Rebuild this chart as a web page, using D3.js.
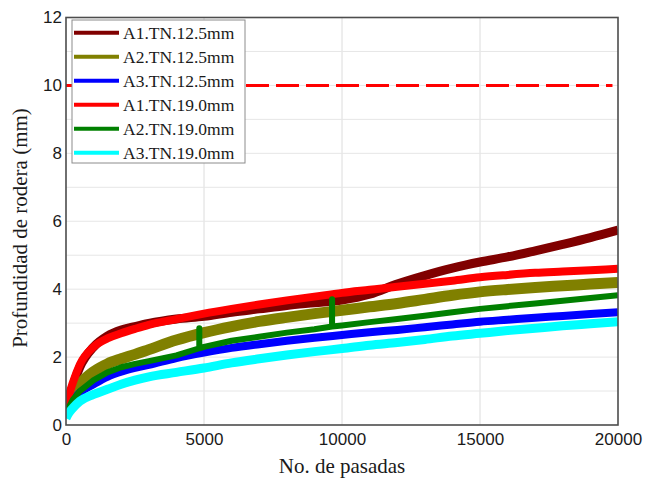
<!DOCTYPE html>
<html>
<head>
<meta charset="utf-8">
<script src="https://cdn.jsdelivr.net/npm/d3@7"></script>
<style>
  html, body { margin: 0; padding: 0; background: #fff; }
  svg { display: block; }
</style>
</head>
<body>
<svg id="chart" width="646" height="479"></svg>
<script>
// Rut depth (mm) versus number of wheel passes
const passes = [0, 100, 250, 500, 1000, 1500, 2000, 2500, 3000, 4000, 5000, 6000, 7000, 8000, 9000,
                10000, 11000, 12000, 13000, 14000, 15000, 16000, 17000, 18000, 19000, 20000];

const seriesNames = ["A1.TN.12.5mm", "A2.TN.12.5mm", "A3.TN.12.5mm",
                     "A1.TN.19.0mm", "A2.TN.19.0mm", "A3.TN.19.0mm"];
const seriesColors = ["#800000", "#808000", "#0000ff", "#ff0000", "#008000", "#00ffff"];

const a1_125 = [0.40, 0.75, 1.15, 1.70, 2.30, 2.62, 2.80, 2.90, 2.99, 3.12, 3.20, 3.32, 3.42, 3.52, 3.60,
                3.68, 3.85, 4.15, 4.40, 4.62, 4.80, 4.95, 5.13, 5.32, 5.52, 5.74];
const a2_125 = [0.35, 0.60, 0.90, 1.20, 1.57, 1.80, 1.95, 2.08, 2.22, 2.50, 2.72, 2.90, 3.05, 3.17, 3.28,
                3.38, 3.48, 3.58, 3.70, 3.82, 3.92, 3.99, 4.05, 4.10, 4.15, 4.20];
const a3_125 = [0.30, 0.50, 0.72, 0.95, 1.20, 1.42, 1.57, 1.68, 1.77, 1.97, 2.13, 2.27, 2.38, 2.48, 2.57,
                2.65, 2.73, 2.80, 2.88, 2.96, 3.04, 3.10, 3.16, 3.21, 3.27, 3.32];
const a1_190 = [0.45, 0.85, 1.25, 1.78, 2.30, 2.55, 2.70, 2.83, 2.95, 3.12, 3.28, 3.42, 3.55, 3.67, 3.78,
                3.89, 3.98, 4.07, 4.16, 4.25, 4.35, 4.42, 4.48, 4.52, 4.56, 4.60];
const a2_190 = [0.30, 0.52, 0.75, 1.00, 1.32, 1.55, 1.70, 1.80, 1.88, 2.05, 2.30, 2.48, 2.60, 2.72, 2.82,
                2.93, 3.03, 3.12, 3.22, 3.32, 3.42, 3.50, 3.58, 3.66, 3.74, 3.82];
const a3_190 = [0.20, 0.35, 0.50, 0.70, 0.90, 1.05, 1.20, 1.32, 1.42, 1.55, 1.68, 1.83, 1.95, 2.06, 2.16,
                2.25, 2.35, 2.43, 2.52, 2.62, 2.70, 2.78, 2.85, 2.92, 2.98, 3.04];

// Short spikes recorded in the A2.TN.19.0mm run: [passes, base, peak]
const a2_190_spikes = [[4830, 2.26, 2.85], [9640, 2.90, 3.70]];

// Rut depth limit
const limitDepth = 10;
const limitRange = [0, 19800];

const xTicks = [0, 5000, 10000, 15000, 20000];
const yTicks = [0, 2, 4, 6, 8, 10, 12];
const xGrid = [5000, 10000, 15000];
const yGrid = [1, 2, 3, 4, 5, 6, 7, 8, 9, 10, 11];

const seriesValues = [a1_125, a2_125, a3_125, a1_190, a2_190, a3_190];

(function () {
  // A2.TN.19.0mm with its spikes inserted as vertical excursions
  function withSpikes(values, spikes) {
    const pts = passes.map((p, i) => [p, values[i]]);
    spikes.forEach(([p, base, peak]) => {
      const idx = pts.findIndex(d => d[0] > p);
      pts.splice(idx, 0, [p - 1, base], [p, peak], [p + 1, base]);
    });
    return pts;
  }

  const svg = d3.select("#chart");
  const pLeft = 66, pRight = 618, pTop = 17.5, pBottom = 425;

  const x = d3.scaleLinear().domain([0, 20000]).range([pLeft, pRight]);
  const y = d3.scaleLinear().domain([0, 12]).range([pBottom, pTop]);

  svg.append("defs").append("clipPath").attr("id", "plotClip")
    .append("rect").attr("x", pLeft).attr("y", pTop)
    .attr("width", pRight - pLeft).attr("height", pBottom - pTop);

  // grid
  const grid = svg.append("g");
  grid.selectAll(".gx").data(xGrid).join("line")
    .attr("x1", d => x(d)).attr("x2", d => x(d))
    .attr("y1", pTop).attr("y2", pBottom)
    .attr("stroke", "#dcdcdc").attr("stroke-width", 1);
  grid.selectAll(".gy").data(yGrid).join("line")
    .attr("x1", pLeft).attr("x2", pRight)
    .attr("y1", d => y(d)).attr("y2", d => y(d))
    .attr("stroke", "#e6e6e6").attr("stroke-width", 1);

  // limit line
  svg.append("line")
    .attr("x1", x(limitRange[0])).attr("x2", x(limitRange[1]))
    .attr("y1", y(limitDepth)).attr("y2", y(limitDepth))
    .attr("stroke", "#ff0000").attr("stroke-width", 3)
    .attr("stroke-dasharray", "23,7");

  // curves
  const smooth = d3.line().x(d => x(d[0])).y(d => y(d[1])).curve(d3.curveMonotoneX);
  const straight = d3.line().x(d => x(d[0])).y(d => y(d[1]));
  const widths = [9, 11, 8, 8, 6, 9];
  const curves = svg.append("g").attr("clip-path", "url(#plotClip)");
  seriesValues.forEach((vals, i) => {
    const spiky = i === 4;
    const pts = spiky ? withSpikes(vals, a2_190_spikes) : passes.map((p, j) => [p, vals[j]]);
    curves.append("path")
      .datum(pts)
      .attr("d", spiky ? straight : smooth)
      .attr("fill", "none")
      .attr("stroke", seriesColors[i])
      .attr("stroke-width", widths[i])
      .attr("stroke-linejoin", "round")
      .attr("stroke-linecap", "butt");
  });

  // frame
  svg.append("rect")
    .attr("x", pLeft).attr("y", pTop)
    .attr("width", pRight - pLeft).attr("height", pBottom - pTop)
    .attr("fill", "none").attr("stroke", "#4d4d4d").attr("stroke-width", 1.6);

  // tick labels
  const axX = svg.append("g").attr("transform", `translate(0,${pBottom})`)
    .call(d3.axisBottom(x).tickValues(xTicks).tickSize(0).tickPadding(8).tickFormat(d3.format("d")));
  axX.select(".domain").remove();
  axX.selectAll("text").attr("font-family", "'Liberation Sans', Arial, sans-serif")
    .attr("font-size", 17).attr("fill", "#1a1a1a");

  const axY = svg.append("g").attr("transform", `translate(${pLeft},0)`)
    .call(d3.axisLeft(y).tickValues(yTicks).tickSize(0).tickPadding(4).tickFormat(d3.format("d")));
  axY.select(".domain").remove();
  axY.selectAll("text").attr("font-family", "'Liberation Sans', Arial, sans-serif")
    .attr("font-size", 17).attr("fill", "#1a1a1a");

  // axis titles
  svg.append("text")
    .attr("x", (pLeft + pRight) / 2).attr("y", 473)
    .attr("text-anchor", "middle")
    .attr("font-family", "'Liberation Serif', 'Times New Roman', serif")
    .attr("font-size", 21).attr("fill", "#1a1a1a")
    .text("No. de pasadas");

  svg.append("text")
    .attr("transform", "translate(27,228) rotate(-90)")
    .attr("text-anchor", "middle")
    .attr("font-family", "'Liberation Serif', 'Times New Roman', serif")
    .attr("font-size", 21).attr("fill", "#1a1a1a")
    .text("Profundidad de rodera (mm)");

  // legend
  const lg = svg.append("g");
  lg.append("rect")
    .attr("x", 72).attr("y", 20).attr("width", 173).attr("height", 143)
    .attr("fill", "#fff").attr("stroke", "#8c8c8c").attr("stroke-width", 1);
  seriesNames.forEach((name, i) => {
    const yy = 32.7 + i * 24;
    lg.append("line")
      .attr("x1", 74).attr("x2", 119).attr("y1", yy).attr("y2", yy)
      .attr("stroke", seriesColors[i]).attr("stroke-width", 4);
    lg.append("text")
      .attr("x", 123).attr("y", yy + 6)
      .attr("font-family", "'Liberation Serif', 'Times New Roman', serif")
      .attr("font-size", 17.5).attr("fill", "#1a1a1a")
      .text(name);
  });
})();
</script>
</body>
</html>
